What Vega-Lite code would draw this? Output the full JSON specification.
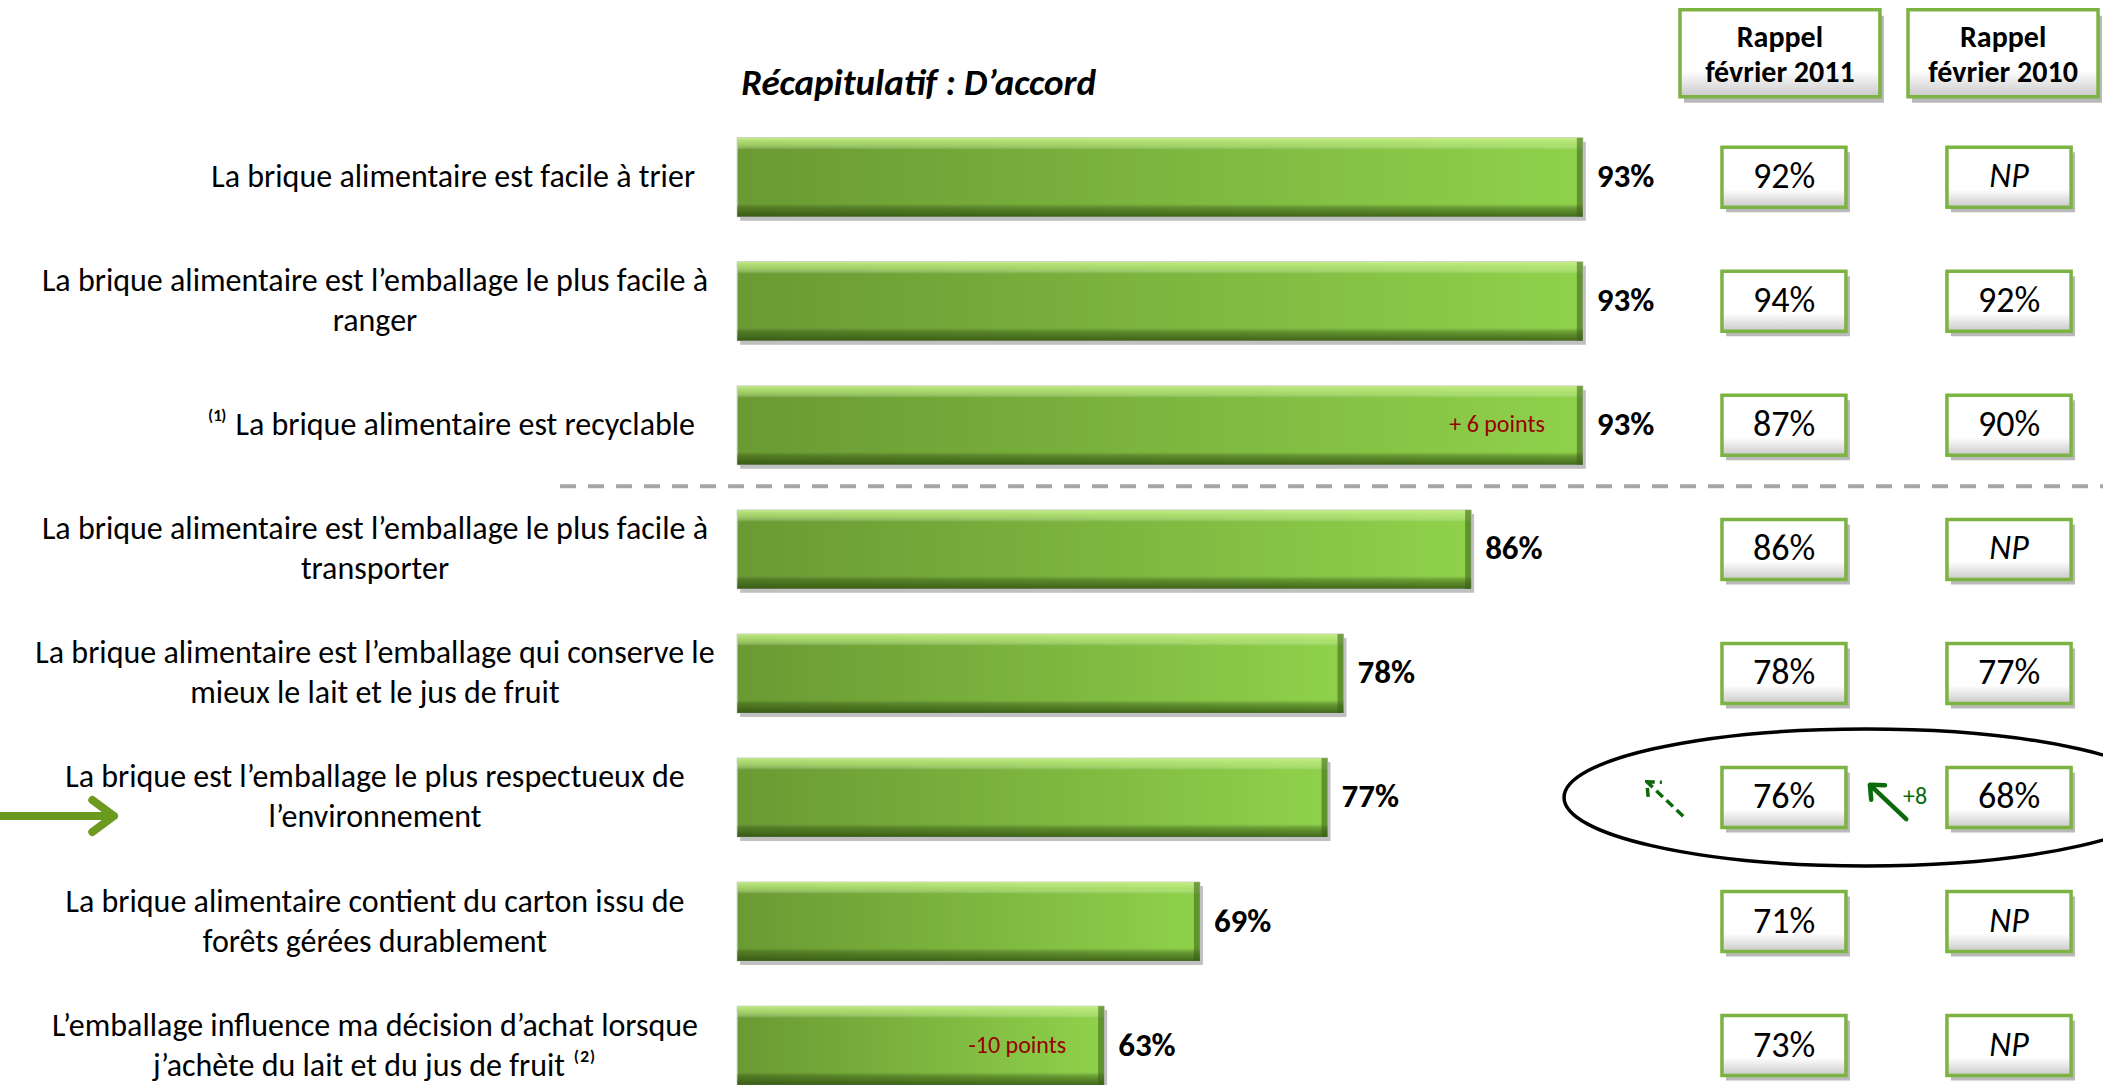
{
  "$schema": "https://vega.github.io/schema/vega-lite/v6.json",
  "width": 2103,
  "height": 1085,
  "autosize": {"type": "none"},
  "padding": 0,
  "background": "white",
  "config": {"view": {"stroke": null}, "font": "Carlito, Lato, sans-serif"},
  "datasets": {
    "items": [
      {"item": "Q1", "label": "La brique alimentaire est facile à trier", "score": 0.93, "note": null},
      {"item": "Q2", "label": ["La brique alimentaire est l’emballage le plus facile à", "ranger"], "score": 0.93, "note": null},
      {"item": "Q3", "label": "⁽¹⁾  La brique alimentaire est recyclable", "score": 0.93, "note": "+ 6 points"},
      {"item": "Q4", "label": ["La brique alimentaire est l’emballage le plus facile à", "transporter"], "score": 0.86, "note": null},
      {"item": "Q5", "label": ["La brique alimentaire est l’emballage qui conserve le", "mieux le lait et le jus de fruit"], "score": 0.78, "note": null},
      {"item": "Q6", "label": ["La brique est l’emballage le plus respectueux de", "l’environnement"], "score": 0.77, "note": null},
      {"item": "Q7", "label": ["La brique alimentaire contient du carton issu de", "forêts gérées durablement"], "score": 0.69, "note": null},
      {"item": "Q8", "label": ["L’emballage influence ma décision d’achat lorsque", "j’achète du lait et du jus de fruit ⁽²⁾"], "score": 0.63, "note": "-10 points"}
    ],
    "rappel": [
      {"item": "Q1", "year": "2011", "value": "92%"}, {"item": "Q1", "year": "2010", "value": "NP"},
      {"item": "Q2", "year": "2011", "value": "94%"}, {"item": "Q2", "year": "2010", "value": "92%"},
      {"item": "Q3", "year": "2011", "value": "87%"}, {"item": "Q3", "year": "2010", "value": "90%"},
      {"item": "Q4", "year": "2011", "value": "86%"}, {"item": "Q4", "year": "2010", "value": "NP"},
      {"item": "Q5", "year": "2011", "value": "78%"}, {"item": "Q5", "year": "2010", "value": "77%"},
      {"item": "Q6", "year": "2011", "value": "76%"}, {"item": "Q6", "year": "2010", "value": "68%"},
      {"item": "Q7", "year": "2011", "value": "71%"}, {"item": "Q7", "year": "2010", "value": "NP"},
      {"item": "Q8", "year": "2011", "value": "73%"}, {"item": "Q8", "year": "2010", "value": "NP"}
    ],
    "headers": [
      {"year": "2011", "title": ["Rappel", "février 2011"]},
      {"year": "2010", "title": ["Rappel", "février 2010"]}
    ]
  },
  "layer": [
    {
      "data": {"name": "items"},
      "mark": {"type": "bar", "color": "#8c8c8c", "opacity": 0.55, "xOffset": 3, "x2Offset": 3, "yOffset": 4, "y2Offset": 4},
      "encoding": {
        "x": {"field": "score", "type": "quantitative", "scale": {"domain": [-0.062, 1.256], "zero": false, "nice": false}, "axis": null},
        "x2": {"datum": 0.4},
        "y": {"field": "item", "type": "nominal", "scale": {"type": "band", "domain": ["header", "Q1", "Q2", "Q3", "Q4", "Q5", "Q6", "Q7", "Q8"], "paddingInner": 0.364, "paddingOuter": 0.0556, "align": 1}, "axis": null}
      }
    },
    {
      "data": {"name": "items"},
      "mark": {"type": "bar", "fill": {"gradient": "linear", "x1": 0, "y1": 0, "x2": 1, "y2": 0, "stops": [{"offset": 0, "color": "#6a9a33"}, {"offset": 1, "color": "#8fd14b"}]}, "stroke": "#c4c4c4", "strokeWidth": 1},
      "encoding": {
        "x": {"field": "score", "type": "quantitative"},
        "x2": {"datum": 0.4},
        "y": {"field": "item", "type": "nominal"}
      }
    },
    {
      "data": {"name": "items"},
      "mark": {"type": "bar", "fill": {"gradient": "linear", "x1": 0, "y1": 0, "x2": 0, "y2": 1, "stops": [
        {"offset": 0, "color": "rgba(200,240,140,0.9)"},
        {"offset": 0.09, "color": "rgba(190,235,130,0.6)"},
        {"offset": 0.15, "color": "rgba(255,255,255,0)"},
        {"offset": 0.84, "color": "rgba(0,0,0,0)"},
        {"offset": 0.91, "color": "rgba(40,70,10,0.45)"},
        {"offset": 1, "color": "rgba(40,70,10,0.75)"}]}},
      "encoding": {
        "x": {"field": "score", "type": "quantitative"},
        "x2": {"datum": 0.4},
        "y": {"field": "item", "type": "nominal"}
      }
    },
    {
      "data": {"name": "items"},
      "mark": {"type": "bar", "color": "#3a5f18", "opacity": 0.55, "x2Offset": -6},
      "encoding": {
        "x": {"field": "score", "type": "quantitative"},
        "x2": {"field": "score"},
        "y": {"field": "item", "type": "nominal"}
      }
    },
    {
      "data": {"name": "items"},
      "transform": [{"filter": "isValid(datum.note)"}],
      "mark": {"type": "text", "align": "right", "baseline": "middle", "dx": -38, "fontSize": 24, "color": "#990000"},
      "encoding": {
        "x": {"field": "score", "type": "quantitative"},
        "y": {"field": "item", "type": "nominal"},
        "text": {"field": "note"}
      }
    },
    {
      "data": {"name": "items"},
      "mark": {"type": "text", "align": "left", "baseline": "middle", "dx": 14, "fontSize": 33, "fontWeight": "bold", "color": "black"},
      "encoding": {
        "x": {"field": "score", "type": "quantitative"},
        "y": {"field": "item", "type": "nominal"},
        "text": {"field": "score", "type": "quantitative", "format": ".0%"}
      }
    },
    {
      "data": {"name": "items"},
      "transform": [{"filter": "isArray(datum.label)"}],
      "mark": {"type": "text", "align": "center", "baseline": "middle", "fontSize": 32, "lineHeight": 40, "dy": -20, "color": "black"},
      "encoding": {
        "x": {"datum": 0.173, "type": "quantitative"},
        "y": {"field": "item", "type": "nominal"},
        "text": {"field": "label"}
      }
    },
    {
      "data": {"name": "items"},
      "transform": [{"filter": "!isArray(datum.label)"}],
      "mark": {"type": "text", "align": "right", "baseline": "middle", "fontSize": 32, "color": "black"},
      "encoding": {
        "x": {"datum": 0.3736, "type": "quantitative"},
        "y": {"field": "item", "type": "nominal"},
        "text": {"field": "label"}
      }
    },
    {
      "data": {"values": [{}]},
      "mark": {"type": "text", "text": "Récapitulatif : D’accord", "align": "left", "baseline": "middle", "dx": 4, "dy": 31, "fontSize": 37, "fontWeight": "bold", "fontStyle": "italic", "color": "black"},
      "encoding": {
        "x": {"datum": 0.4, "type": "quantitative"},
        "y": {"datum": "header", "type": "nominal"}
      }
    },
    {
      "data": {"values": [{}]},
      "mark": {"type": "rule", "color": "#a6a6a6", "strokeWidth": 4, "strokeDash": [16, 12], "yOffset": 61},
      "encoding": {
        "x": {"datum": 0.289, "type": "quantitative"},
        "x2": {"datum": 1.256},
        "y": {"datum": "Q3", "type": "nominal"}
      }
    },
    {
      "data": {"name": "headers"},
      "transform": [{"filter": "datum.year === '2011'"}],
      "layer": [
        {"mark": {"type": "rect", "height": 87, "color": "#7f7f7f", "opacity": 0.55, "xOffset": 4, "x2Offset": 4, "yOffset": 6},
         "encoding": {"x": {"datum": 0.9909, "type": "quantitative"}, "x2": {"datum": 1.1162}, "y": {"datum": "header", "type": "nominal"}}},
        {"mark": {"type": "rect", "height": 87, "fill": {"gradient": "linear", "x1": 0, "y1": 0, "x2": 0, "y2": 1, "stops": [{"offset": 0, "color": "#ffffff"}, {"offset": 0.7, "color": "#ffffff"}, {"offset": 1, "color": "#c9c9c9"}]}, "stroke": "#7cb342", "strokeWidth": 3.5},
         "encoding": {"x": {"datum": 0.9909, "type": "quantitative"}, "x2": {"datum": 1.1162}, "y": {"datum": "header", "type": "nominal"}}},
        {"mark": {"type": "text", "align": "center", "baseline": "middle", "fontSize": 30, "fontWeight": "bold", "lineHeight": 35, "dy": -15, "color": "black"},
         "encoding": {"x": {"datum": 1.0535, "type": "quantitative"}, "y": {"datum": "header", "type": "nominal"}, "text": {"field": "title"}}}
      ]
    },
    {
      "data": {"name": "headers"},
      "transform": [{"filter": "datum.year === '2010'"}],
      "layer": [
        {"mark": {"type": "rect", "height": 87, "color": "#7f7f7f", "opacity": 0.55, "xOffset": 4, "x2Offset": 4, "yOffset": 6},
         "encoding": {"x": {"datum": 1.1338, "type": "quantitative"}, "x2": {"datum": 1.2529}, "y": {"datum": "header", "type": "nominal"}}},
        {"mark": {"type": "rect", "height": 87, "fill": {"gradient": "linear", "x1": 0, "y1": 0, "x2": 0, "y2": 1, "stops": [{"offset": 0, "color": "#ffffff"}, {"offset": 0.7, "color": "#ffffff"}, {"offset": 1, "color": "#c9c9c9"}]}, "stroke": "#7cb342", "strokeWidth": 3.5},
         "encoding": {"x": {"datum": 1.1338, "type": "quantitative"}, "x2": {"datum": 1.2529}, "y": {"datum": "header", "type": "nominal"}}},
        {"mark": {"type": "text", "align": "center", "baseline": "middle", "fontSize": 30, "fontWeight": "bold", "lineHeight": 35, "dy": -15, "color": "black"},
         "encoding": {"x": {"datum": 1.1934, "type": "quantitative"}, "y": {"datum": "header", "type": "nominal"}, "text": {"field": "title"}}}
      ]
    },
    {
      "data": {"name": "rappel"},
      "transform": [{"filter": "datum.year === '2011'"}],
      "layer": [
        {"mark": {"type": "rect", "height": 60, "color": "#7f7f7f", "opacity": 0.55, "xOffset": 4, "x2Offset": 4, "yOffset": 5},
         "encoding": {"x": {"datum": 1.0172, "type": "quantitative"}, "x2": {"datum": 1.0949}, "y": {"field": "item", "type": "nominal"}}},
        {"mark": {"type": "rect", "height": 60, "fill": {"gradient": "linear", "x1": 0, "y1": 0, "x2": 0, "y2": 1, "stops": [{"offset": 0, "color": "#ffffff"}, {"offset": 0.7, "color": "#ffffff"}, {"offset": 1, "color": "#c9c9c9"}]}, "stroke": "#7cb342", "strokeWidth": 3.5},
         "encoding": {"x": {"datum": 1.0172, "type": "quantitative"}, "x2": {"datum": 1.0949}, "y": {"field": "item", "type": "nominal"}}},
        {"transform": [{"filter": "datum.value !== 'NP'"}],
         "mark": {"type": "text", "align": "center", "baseline": "middle", "fontSize": 36, "color": "black"},
         "encoding": {"x": {"datum": 1.0561, "type": "quantitative"}, "y": {"field": "item", "type": "nominal"}, "text": {"field": "value"}}},
        {"transform": [{"filter": "datum.value === 'NP'"}],
         "mark": {"type": "text", "align": "center", "baseline": "middle", "fontSize": 34, "fontStyle": "italic", "color": "black"},
         "encoding": {"x": {"datum": 1.0561, "type": "quantitative"}, "y": {"field": "item", "type": "nominal"}, "text": {"field": "value"}}}
      ]
    },
    {
      "data": {"name": "rappel"},
      "transform": [{"filter": "datum.year === '2010'"}],
      "layer": [
        {"mark": {"type": "rect", "height": 60, "color": "#7f7f7f", "opacity": 0.55, "xOffset": 4, "x2Offset": 4, "yOffset": 5},
         "encoding": {"x": {"datum": 1.1582, "type": "quantitative"}, "x2": {"datum": 1.236}, "y": {"field": "item", "type": "nominal"}}},
        {"mark": {"type": "rect", "height": 60, "fill": {"gradient": "linear", "x1": 0, "y1": 0, "x2": 0, "y2": 1, "stops": [{"offset": 0, "color": "#ffffff"}, {"offset": 0.7, "color": "#ffffff"}, {"offset": 1, "color": "#c9c9c9"}]}, "stroke": "#7cb342", "strokeWidth": 3.5},
         "encoding": {"x": {"datum": 1.1582, "type": "quantitative"}, "x2": {"datum": 1.236}, "y": {"field": "item", "type": "nominal"}}},
        {"transform": [{"filter": "datum.value !== 'NP'"}],
         "mark": {"type": "text", "align": "center", "baseline": "middle", "fontSize": 36, "color": "black"},
         "encoding": {"x": {"datum": 1.1971, "type": "quantitative"}, "y": {"field": "item", "type": "nominal"}, "text": {"field": "value"}}},
        {"transform": [{"filter": "datum.value === 'NP'"}],
         "mark": {"type": "text", "align": "center", "baseline": "middle", "fontSize": 34, "fontStyle": "italic", "color": "black"},
         "encoding": {"x": {"datum": 1.1971, "type": "quantitative"}, "y": {"field": "item", "type": "nominal"}, "text": {"field": "value"}}}
      ]
    },
    {
      "data": {"values": [{}]},
      "mark": {"type": "point", "shape": "M-1,0 C-1,-0.1252 -0.5523,-0.2268 0,-0.2268 C0.5523,-0.2268 1,-0.1252 1,0 C1,0.1252 0.5523,0.2268 0,0.2268 C-0.5523,0.2268 -1,0.1252 -1,0 Z", "size": 364816, "filled": false, "stroke": "black", "strokeWidth": 3.5, "opacity": 1},
      "encoding": {
        "x": {"datum": 1.1075, "type": "quantitative"},
        "y": {"datum": "Q6", "type": "nominal"}
      }
    },
    {
      "data": {"values": [{}]},
      "mark": {"type": "point", "shape": "M-1,0 L1,0 M0.55,-0.4 L1,0 L0.55,0.4", "size": 2500, "filled": false, "stroke": "#0b6b0b", "strokeWidth": 4.5, "strokeCap": "round", "strokeJoin": "round", "angle": 223.4, "opacity": 1, "yOffset": 4.5},
      "encoding": {
        "x": {"datum": 1.1213, "type": "quantitative"},
        "y": {"datum": "Q6", "type": "nominal"}
      }
    },
    {
      "data": {"values": [{}]},
      "mark": {"type": "point", "shape": "M-1,0 L1,0 M0.55,-0.4 L1,0 L0.55,0.4", "size": 2500, "filled": false, "stroke": "#0b6b0b", "strokeWidth": 3.5, "strokeDash": [9, 5], "strokeCap": "butt", "angle": 223.4, "opacity": 1, "yOffset": 1.5},
      "encoding": {
        "x": {"datum": 0.9815, "type": "quantitative"},
        "y": {"datum": "Q6", "type": "nominal"}
      }
    },
    {
      "data": {"values": [{}]},
      "mark": {"type": "text", "text": "+8", "align": "left", "baseline": "middle", "fontSize": 24, "color": "#0b6b0b"},
      "encoding": {
        "x": {"datum": 1.1307, "type": "quantitative"},
        "y": {"datum": "Q6", "type": "nominal"}
      }
    },
    {
      "data": {"values": [{}]},
      "mark": {"type": "point", "shape": "M-1,0 L1,0 M0.62,-0.28 L1,0 L0.62,0.28", "size": 12996, "filled": false, "stroke": "#6b9a1f", "strokeWidth": 8, "strokeCap": "round", "strokeJoin": "round", "opacity": 1, "yOffset": 18.5},
      "encoding": {
        "x": {"datum": -0.0263, "type": "quantitative"},
        "y": {"datum": "Q6", "type": "nominal"}
      }
    }
  ]
}
